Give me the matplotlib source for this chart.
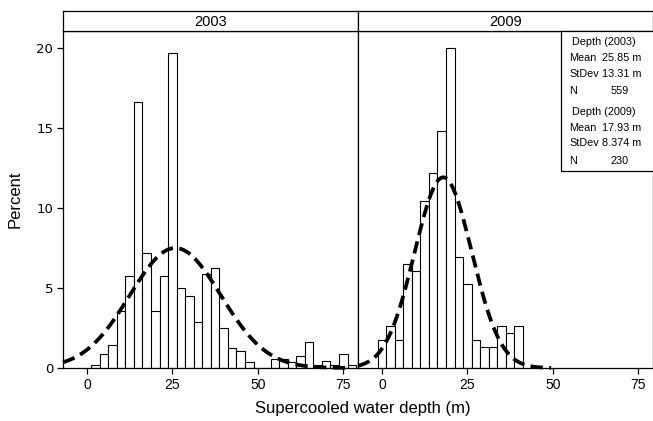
"""Histogram of supercooled water depth, 2003 vs 2009, with fitted normal curves."""

import matplotlib.pyplot as plt
import numpy as np
from matplotlib.patches import Rectangle

plt.rcParams.update({
    'font.family': ['Liberation Sans', 'DejaVu Sans'],
    'axes.linewidth': 0.9,
    'xtick.major.width': 0.9,
    'ytick.major.width': 0.9,
})

W, H = 653, 421
BIN_WIDTH = 2.5

# 2003 histogram (percent per 2.5 m bin)
depth_2003 = [2.5, 5, 7.5, 10, 12.5, 15, 17.5, 20, 22.5, 25, 27.5, 30, 32.5, 35,
              37.5, 40, 42.5, 45, 47.5, 50, 52.5, 55, 57.5, 60, 62.5, 65, 67.5,
              70, 72.5, 75, 77.5]
pct_2003 = [0.18, 0.89, 1.43, 3.58, 5.72, 16.64, 7.16, 3.58, 5.72, 19.68, 5.01,
            4.47, 2.86, 5.90, 6.26, 2.50, 1.25, 1.07, 0.36, 0, 0, 0.54, 0.54,
            0.36, 0.72, 1.61, 0.18, 0.45, 0.18, 0.89, 0.18]

# 2009 histogram
depth_2009 = [0, 2.5, 5, 7.5, 10, 12.5, 15, 17.5, 20, 22.5, 25, 27.5, 30, 32.5,
              35, 37.5, 40]
pct_2009 = [1.74, 2.61, 1.74, 6.52, 6.09, 10.43, 12.17, 14.78, 20.0, 6.96, 5.22,
            1.74, 1.30, 1.30, 2.61, 2.17, 2.61]

# fitted normal parameters (from the stats box)
mean_2003, sd_2003, n_2003 = 25.85, 13.31, 559
mean_2009, sd_2009, n_2009 = 17.93, 8.374, 230
curve_range_2003 = (-7, 76)
curve_range_2009 = (-7, 49.5)

YEARS = ['2003', '2009']


def px_rect(x0, y0, x1, y1):
    """pixel box (top-left origin) -> figure fraction [l, b, w, h]"""
    return [x0 / W, 1 - y1 / H, (x1 - x0) / W, (y1 - y0) / H]


def normal_pct(x, mu, sd):
    return 100 * BIN_WIDTH * np.exp(-0.5 * ((x - mu) / sd) ** 2) / (sd * np.sqrt(2 * np.pi))


fig = plt.figure(figsize=(W / 100, H / 100), dpi=100)

panels = [
    (px_rect(63, 31, 358, 368), px_rect(63, 11, 358, 31), depth_2003, pct_2003,
     mean_2003, sd_2003, curve_range_2003),
    (px_rect(358, 31, 653, 368), px_rect(358, 11, 653, 31), depth_2009, pct_2009,
     mean_2009, sd_2009, curve_range_2009),
]

for i, (rect, strip_rect, depth, pct, mu, sd, crange) in enumerate(panels):
    ax = fig.add_axes(rect)
    ax.bar(depth, pct, width=BIN_WIDTH, facecolor='white', edgecolor='black',
           linewidth=0.8, zorder=2)
    xs = np.linspace(crange[0], crange[1], 300)
    ax.plot(xs, normal_pct(xs, mu, sd), color='black', lw=2.7,
            linestyle=(0, (3.3, 1.7)), zorder=3, clip_on=False)
    ax.set_xlim(-7, 79.3)
    ax.set_ylim(0, 21.05)
    ax.set_xticks([0, 25, 50, 75])
    ax.tick_params(axis='x', direction='out', length=4, labelsize=10, pad=3)
    if i == 0:
        ax.set_yticks([0, 5, 10, 15, 20])
        ax.tick_params(axis='y', direction='out', length=4, pad=3)
        for lab in ax.get_yticklabels():
            lab.set_family('DejaVu Sans')
            lab.set_fontsize(9.5)
        ax.set_ylabel('Percent', fontsize=12, labelpad=10)
    else:
        ax.set_yticks([])

    sax = fig.add_axes(strip_rect)
    sax.set_xticks([])
    sax.set_yticks([])
    sax.text(0.5, 0.45, YEARS[i], ha='center', va='center', fontsize=10.5,
             transform=sax.transAxes)

fig.text(363 / W, 1 - 408 / H, 'Supercooled water depth (m)', ha='center',
         va='center', fontsize=12)

# stats box
box = px_rect(561, 31, 700, 171)
fig.patches.append(Rectangle((box[0], box[1]), box[2], box[3], transform=fig.transFigure,
                             facecolor='white', edgecolor='black', lw=0.9, zorder=5))
rows = [
    ('Depth (2003)', None, None, 41.7),
    ('Mean', f'{mean_2003}', ' m', 58.3),
    ('StDev', f'{sd_2003}', ' m', 74.0),
    ('N', f'{n_2003}', None, 90.7),
    ('Depth (2009)', None, None, 111.7),
    ('Mean', f'{mean_2009}', ' m', 127.7),
    ('StDev', f'{sd_2009}', ' m', 143.3),
    ('N', f'{n_2009}', None, 160.7),
]
for label, value, unit, ypx in rows:
    y = 1 - ypx / H
    xl = 571.5 if label.startswith('Depth') else 569.5
    fig.text(xl / W, y, label, ha='left', va='center', fontsize=7.8, zorder=6)
    if value is None:
        continue
    if unit:
        fig.text(602.5 / W, y, value + unit, ha='left', va='center', fontsize=7.8, zorder=6)
    else:
        fig.text(620 / W, y, value, ha='center', va='center', fontsize=7.8, zorder=6)

fig.savefig('out.png', dpi=100)
